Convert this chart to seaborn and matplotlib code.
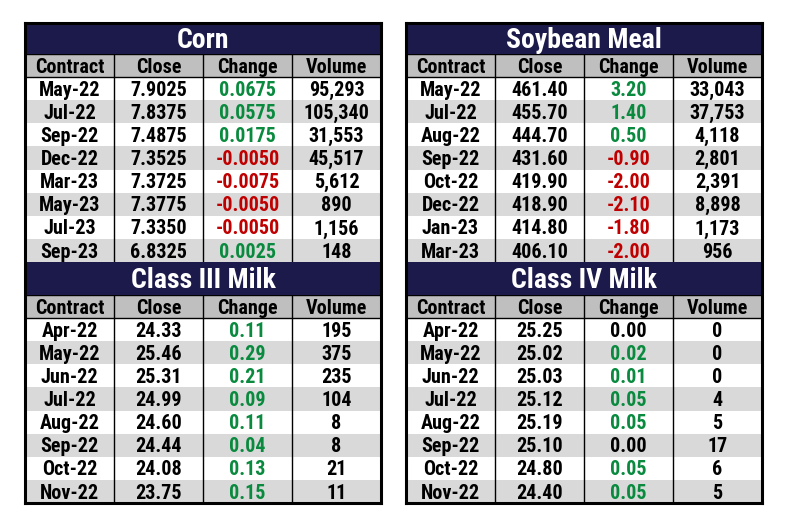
import numpy as np
import pandas as pd
import matplotlib
matplotlib.use("Agg")
import matplotlib.pyplot as plt
from matplotlib import font_manager
from matplotlib.colors import ListedColormap
import seaborn as sns

# ---------------- data ----------------
columns = ["Contract", "Close", "Change", "Volume"]

corn_contracts = ["May-22", "Jul-22", "Sep-22", "Dec-22", "Mar-23", "May-23", "Jul-23", "Sep-23"]
corn_close = [7.9025, 7.8375, 7.4875, 7.3525, 7.3725, 7.3775, 7.3350, 6.8325]
corn_change = [0.0675, 0.0575, 0.0175, -0.0050, -0.0075, -0.0050, -0.0050, 0.0025]
corn_volume = [95293, 105340, 31553, 45517, 5612, 890, 1156, 148]

soy_contracts = ["May-22", "Jul-22", "Aug-22", "Sep-22", "Oct-22", "Dec-22", "Jan-23", "Mar-23"]
soy_close = [461.40, 455.70, 444.70, 431.60, 419.90, 418.90, 414.80, 406.10]
soy_change = [3.20, 1.40, 0.50, -0.90, -2.00, -2.10, -1.80, -2.00]
soy_volume = [33043, 37753, 4118, 2801, 2391, 8898, 1173, 956]

c3_contracts = ["Apr-22", "May-22", "Jun-22", "Jul-22", "Aug-22", "Sep-22", "Oct-22", "Nov-22"]
c3_close = [24.33, 25.46, 25.31, 24.99, 24.60, 24.44, 24.08, 23.75]
c3_change = [0.11, 0.29, 0.21, 0.09, 0.11, 0.04, 0.13, 0.15]
c3_volume = [195, 375, 235, 104, 8, 8, 21, 11]

c4_contracts = ["Apr-22", "May-22", "Jun-22", "Jul-22", "Aug-22", "Sep-22", "Oct-22", "Nov-22"]
c4_close = [25.25, 25.02, 25.03, 25.12, 25.19, 25.10, 24.80, 24.40]
c4_change = [0.00, 0.02, 0.01, 0.05, 0.05, 0.00, 0.05, 0.05]
c4_volume = [0, 0, 0, 4, 5, 17, 6, 5]

# ---------------- style ----------------
sns.set_theme(style="white")
names = {f.name for f in font_manager.fontManager.ttflist}
FAMILY, STRETCH = "DejaVu Sans", "condensed"
for cand in ("Liberation Sans Narrow", "Roboto Condensed", "Open Sans Condensed",
             "Noto Sans Condensed"):
    if cand in names:
        FAMILY, STRETCH = cand, "normal"
        break
plt.rcParams["font.family"] = [FAMILY, "DejaVu Sans"]

NAVY = "#1c1a4b"
HEADER = "#bfbfbf"
STRIPE = "#d9d9d9"
GREEN = "#0a8a3e"
RED = "#c00000"

W, H = 789, 529
fig = plt.figure(figsize=(W / 100, H / 100), dpi=100)


def px_axes(x0, y0, x1, y1):
    return fig.add_axes([x0 / W, 1 - y1 / H, (x1 - x0) / W, (y1 - y0) / H])


def draw_table(x0, x1, ytop, ymid, ybot, title, contracts, close, change, volume, dec):
    # title band
    tax = px_axes(x0, ytop, x1, ymid)
    tax.set_xlim(0, 1)
    tax.set_ylim(0, 1)
    tax.set_facecolor(NAVY)
    tax.set_xticks([])
    tax.set_yticks([])
    for s in tax.spines.values():
        s.set_visible(False)
    tax.text(0.5, 0.44, title, color="white", ha="center", va="center",
             fontsize=20, fontweight="bold", fontstretch=STRETCH)

    # body via heatmap
    n = len(contracts)
    shade = np.array([[2] * 4] + [[i % 2] * 4 for i in range(n)], dtype=float)
    labels = [columns]
    for c, cl, ch, v in zip(contracts, close, change, volume):
        labels.append([c, f"{cl:.{dec}f}", f"{ch:.{dec}f}", f"{v:,}"])
    labels = np.array(labels, dtype=object)
    df = pd.DataFrame(shade, columns=columns)
    bax = px_axes(x0, ymid, x1, ybot)
    sns.heatmap(df, ax=bax, cmap=ListedColormap(["white", STRIPE, HEADER]),
                vmin=-0.5, vmax=2.5, cbar=False, annot=labels, fmt="",
                xticklabels=False, yticklabels=False, linewidths=0,
                annot_kws=dict(fontsize=14.5, fontweight="bold", color="black"))
    for k, t in enumerate(bax.texts):
        r, c = divmod(k, 4)
        t.set_color("black")
        t.set_fontstretch(STRETCH)
        t.set_fontweight("bold")
        t.set_y(t.get_position()[1] + 0.07)
        if r > 0 and c == 2:
            val = change[r - 1]
            if val > 0:
                t.set_color(GREEN)
            elif val < 0:
                t.set_color(RED)
    for xv in (1, 2, 3):
        bax.axvline(xv, color="black", lw=1.0)
    bax.axhline(1, color="black", lw=1.0)
    bax.axhline(0, color="black", lw=1.0)
    for s in bax.spines.values():
        s.set_visible(False)


LX0, LX1 = 25, 381
RX0, RX1 = 406, 762
draw_table(LX0, LX1, 23, 54, 262, "Corn", corn_contracts, corn_close, corn_change, corn_volume, 4)
draw_table(LX0, LX1, 262, 295, 503, "Class III Milk", c3_contracts, c3_close, c3_change, c3_volume, 2)
draw_table(RX0, RX1, 23, 54, 262, "Soybean Meal", soy_contracts, soy_close, soy_change, soy_volume, 2)
draw_table(RX0, RX1, 262, 295, 503, "Class IV Milk", c4_contracts, c4_close, c4_change, c4_volume, 2)

# outer frames
for x0, x1 in ((LX0, LX1), (RX0, RX1)):
    fax = px_axes(x0, 23, x1, 503)
    fax.patch.set_visible(False)
    fax.set_xticks([])
    fax.set_yticks([])
    for s in fax.spines.values():
        s.set_visible(True)
        s.set_color("black")
        s.set_linewidth(2.2)

fig.savefig("out.png", dpi=100, facecolor="white")
